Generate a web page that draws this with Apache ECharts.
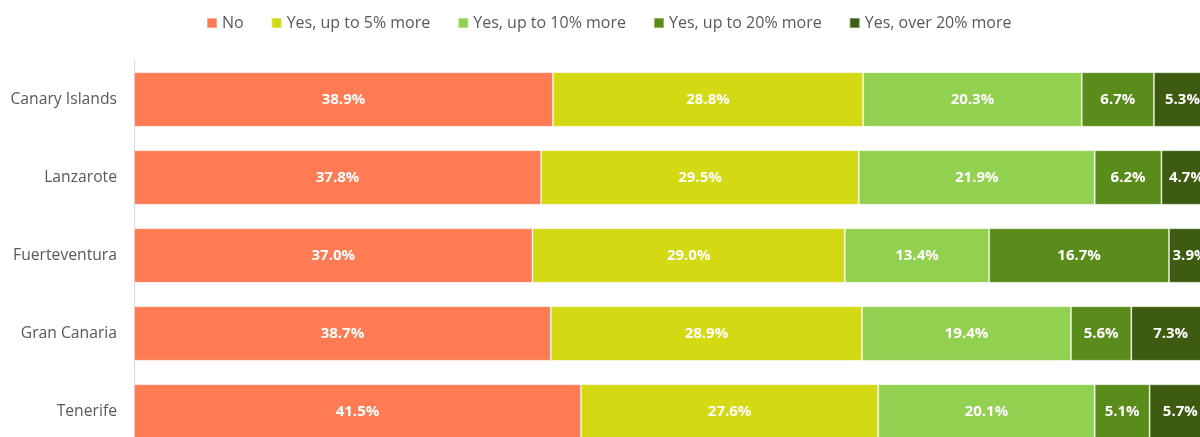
<!DOCTYPE html>
<html><head><meta charset="utf-8">
<script src="https://cdn.jsdelivr.net/npm/echarts@6/dist/echarts.min.js"></script>
<style>html,body{margin:0;padding:0;background:#fff;}#c{width:1200px;height:437px;}</style>
</head><body><div id="c"></div>
<script>
const categories = ['Canary Islands','Lanzarote','Fuerteventura','Gran Canaria','Tenerife'];
const seriesNames = ['No','Yes, up to 5% more','Yes, up to 10% more','Yes, up to 20% more','Yes, over 20% more'];
const noVals = [38.9, 37.8, 37.0, 38.7, 41.5];
const up5Vals = [28.8, 29.5, 29.0, 28.9, 27.6];
const up10Vals = [20.3, 21.9, 13.4, 19.4, 20.1];
const up20Vals = [6.7, 6.2, 16.7, 5.6, 5.1];
const over20Vals = [5.3, 4.7, 3.9, 7.3, 5.7];
const colors = ['#FF7B54','#D3D912','#92D050','#5A8C1C','#3D5C12'];
const allVals = [noVals, up5Vals, up10Vals, up20Vals, over20Vals];
const font = '"Open Sans", sans-serif';
const chart = echarts.init(document.getElementById('c'));
chart.setOption({
  animation:false,
  legend:{top:10,left:201,itemWidth:10,itemHeight:10,itemGap:27,icon:'rect',
    textStyle:{color:'#595959',fontSize:16,fontFamily:font}},
  grid:{left:134,top:60.5,width:1077,height:390,containLabel:false,outerBoundsMode:'none'},
  xAxis:{type:'value',min:0,max:100,show:false},
  yAxis:{type:'category',data:categories,inverse:true,
    axisLine:{show:true,lineStyle:{color:'#D9D9D9'}},axisTick:{show:false},
    axisLabel:{color:'#595959',fontSize:15.7,fontFamily:font,margin:17}},
  series: allVals.map((v,i)=>({
    name:seriesNames[i],type:'bar',stack:'t',data:v,barCategoryGap:'30%',
    itemStyle:{color:colors[i],borderColor:'rgba(255,255,255,0.35)',borderWidth:1},
    label:{show:true,position:'inside',color:'#fff',fontWeight:'bold',fontSize:15,fontFamily:font,
      formatter:p=>p.value.toFixed(1)+'%'}
  }))
});
</script></body></html>
